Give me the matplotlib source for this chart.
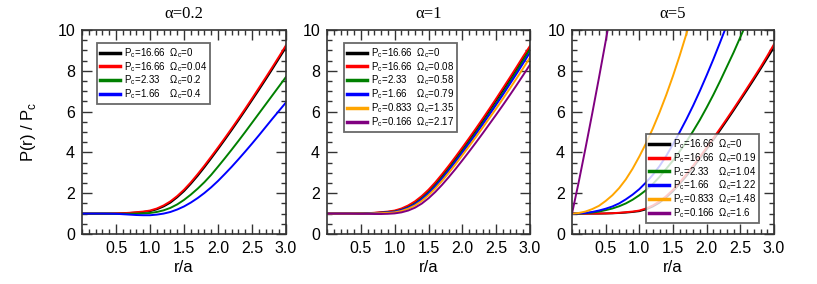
import numpy as np
import matplotlib
matplotlib.use("Agg")
import matplotlib.pyplot as plt
from matplotlib.ticker import MultipleLocator

plt.rcParams['font.family'] = ['Liberation Sans', 'DejaVu Sans']
plt.rcParams['mathtext.fontset'] = 'custom'
plt.rcParams['mathtext.rm'] = 'Liberation Sans'

r = [0.0, 0.1, 0.2, 0.3, 0.4, 0.5, 0.6, 0.7, 0.8, 0.9, 1.0, 1.1, 1.2, 1.3, 1.4, 1.5,
     1.6, 1.7, 1.8, 1.9, 2.0, 2.1, 2.2, 2.3, 2.4, 2.5, 2.6, 2.7, 2.8, 2.9, 3.0]

# alpha = 0.2
a1_black = [1.0, 1.0, 1.0, 1.0, 1.0, 1.005, 1.015, 1.03, 1.05, 1.08, 1.12, 1.21, 1.35, 1.54, 1.8, 2.1,
            2.46, 2.85, 3.27, 3.71, 4.16, 4.62, 5.09, 5.57, 6.06, 6.56, 7.06, 7.57, 8.09, 8.62, 9.15]
a1_red = [1.0, 1.0, 1.0, 1.0, 1.005, 1.01, 1.02, 1.04, 1.07, 1.1, 1.15, 1.25, 1.4, 1.6, 1.86, 2.17,
          2.53, 2.93, 3.35, 3.79, 4.24, 4.7, 5.17, 5.65, 6.14, 6.64, 7.15, 7.66, 8.18, 8.71, 9.25]
a1_green = [1.0, 1.0, 1.0, 1.0, 1.0, 0.99, 0.99, 0.99, 1.0, 1.01, 1.03, 1.08, 1.16, 1.28, 1.45, 1.67,
            1.93, 2.22, 2.54, 2.9, 3.3, 3.71, 4.13, 4.56, 5.0, 5.45, 5.9, 6.35, 6.8, 7.25, 7.7]
a1_blue = [1.0, 1.0, 1.0, 1.0, 0.995, 0.99, 0.97, 0.95, 0.93, 0.92, 0.92, 0.95, 1.0, 1.08, 1.2, 1.35,
           1.54, 1.76, 2.01, 2.29, 2.6, 2.94, 3.29, 3.66, 4.04, 4.43, 4.83, 5.24, 5.65, 6.05, 6.45]

# alpha = 1
a2_black = a1_black
a2_red = [1.0, 1.0, 1.0, 1.0, 1.005, 1.01, 1.02, 1.04, 1.07, 1.1, 1.15, 1.25, 1.4, 1.6, 1.86, 2.17,
          2.53, 2.93, 3.35, 3.79, 4.24, 4.7, 5.17, 5.65, 6.14, 6.64, 7.15, 7.66, 8.18, 8.71, 9.22]
a2_green = [1.0, 1.0, 1.0, 1.0, 1.0, 1.005, 1.01, 1.02, 1.04, 1.07, 1.1, 1.18, 1.31, 1.49, 1.74, 2.03,
            2.38, 2.77, 3.18, 3.61, 4.06, 4.51, 4.97, 5.44, 5.92, 6.41, 6.91, 7.44, 7.97, 8.51, 9.05]
a2_blue = [1.0, 1.0, 1.0, 1.0, 1.0, 1.0, 1.01, 1.02, 1.04, 1.06, 1.09, 1.17, 1.29, 1.46, 1.7, 1.99,
           2.33, 2.71, 3.12, 3.55, 3.99, 4.44, 4.9, 5.37, 5.85, 6.34, 6.83, 7.34, 7.85, 8.37, 8.9]
a2_orange = [1.0, 1.0, 1.0, 1.0, 1.0, 1.0, 1.0, 1.01, 1.02, 1.04, 1.06, 1.13, 1.24, 1.4, 1.62, 1.9,
             2.23, 2.6, 3.0, 3.42, 3.86, 4.3, 4.75, 5.21, 5.68, 6.15, 6.63, 7.12, 7.62, 8.13, 8.65]
a2_purple = [1.0, 1.0, 1.0, 1.0, 0.995, 0.99, 0.99, 0.98, 0.98, 0.99, 1.01, 1.06, 1.15, 1.29, 1.49, 1.75,
             2.06, 2.41, 2.79, 3.19, 3.61, 4.04, 4.48, 4.93, 5.39, 5.85, 6.32, 6.8, 7.29, 7.79, 8.3]

# alpha = 5
a3_black = a1_black
a3_red = [1.0, 1.0, 1.0, 1.0, 1.005, 1.01, 1.02, 1.04, 1.07, 1.1, 1.15, 1.25, 1.4, 1.6, 1.86, 2.17,
          2.53, 2.93, 3.35, 3.79, 4.24, 4.7, 5.17, 5.65, 6.14, 6.64, 7.15, 7.66, 8.18, 8.73, 9.3]
a3_green = [1.0, 1.0, 1.02, 1.05, 1.1, 1.17, 1.25, 1.36, 1.5, 1.68, 1.9, 2.15, 2.45, 2.8, 3.2, 3.6,
            4.05, 4.53, 5.05, 5.6, 6.2, 6.83, 7.5, 8.2, 8.9, 9.65, 10.4]
a3_blue = [1.0, 1.01, 1.03, 1.08, 1.15, 1.24, 1.35, 1.5, 1.7, 1.93, 2.2, 2.53, 2.9, 3.33, 3.83, 4.4,
           5.0, 5.63, 6.3, 7.02, 7.78, 8.57, 9.4, 10.25]
a3_orange = [1.0, 1.03, 1.1, 1.22, 1.38, 1.62, 1.9, 2.25, 2.68, 3.2, 3.8, 4.45, 5.17, 5.96, 6.82, 7.75,
             8.75, 9.82, 10.95]
a3_purple = [1.0, 2.55, 4.2, 5.9, 7.65, 9.45, 11.3]

titles = ['α=0.2', 'α=1', 'α=5']
labels1 = ['P$_\\mathregular{c}$=16.66  Ω$_\\mathregular{c}$=0',
           'P$_\\mathregular{c}$=16.66  Ω$_\\mathregular{c}$=0.04',
           'P$_\\mathregular{c}$=2.33    Ω$_\\mathregular{c}$=0.2',
           'P$_\\mathregular{c}$=1.66    Ω$_\\mathregular{c}$=0.4']
labels2 = ['P$_\\mathregular{c}$=16.66  Ω$_\\mathregular{c}$=0',
           'P$_\\mathregular{c}$=16.66  Ω$_\\mathregular{c}$=0.08',
           'P$_\\mathregular{c}$=2.33    Ω$_\\mathregular{c}$=0.58',
           'P$_\\mathregular{c}$=1.66    Ω$_\\mathregular{c}$=0.79',
           'P$_\\mathregular{c}$=0.833  Ω$_\\mathregular{c}$=1.35',
           'P$_\\mathregular{c}$=0.166  Ω$_\\mathregular{c}$=2.17']
labels3 = ['P$_\\mathregular{c}$=16.66  Ω$_\\mathregular{c}$=0',
           'P$_\\mathregular{c}$=16.66  Ω$_\\mathregular{c}$=0.19',
           'P$_\\mathregular{c}$=2.33    Ω$_\\mathregular{c}$=1.04',
           'P$_\\mathregular{c}$=1.66    Ω$_\\mathregular{c}$=1.22',
           'P$_\\mathregular{c}$=0.833  Ω$_\\mathregular{c}$=1.48',
           'P$_\\mathregular{c}$=0.166  Ω$_\\mathregular{c}$=1.6']

colors = ['black', 'red', 'green', 'blue', 'orange', 'purple']

fig = plt.figure(figsize=(8.17, 2.84), dpi=100)
W, H = 817, 284
lefts = [82, 327, 572]
widths = [204, 203, 202]
axes = [fig.add_axes([lefts[i] / W, 50 / H, widths[i] / W, 204 / H]) for i in range(3)]

panels = [
    [a1_black, a1_red, a1_green, a1_blue],
    [a2_black, a2_red, a2_green, a2_blue, a2_orange, a2_purple],
    [a3_black, a3_red, a3_green, a3_blue, a3_orange, a3_purple],
]
all_labels = [labels1, labels2, labels3]
legend_pos = [('upper left', (0.074, 0.936)), ('upper left', (0.084, 0.936)), ('lower right', (0.926, 0.054))]

for i, ax in enumerate(axes):
    for j, yy in enumerate(panels[i]):
        ax.plot(r[:len(yy)], yy, color=colors[j], lw=1.4, label=all_labels[i][j])
    ax.set_xlim(0, 3)
    ax.set_ylim(0, 10)
    ax.set_xticks([0.5, 1.0, 1.5, 2.0, 2.5, 3.0])
    ax.set_xticklabels(['0.5', '1.0', '1.5', '2.0', '2.5', '3.0'])
    ax.set_yticks([0, 2, 4, 6, 8, 10])
    ax.xaxis.set_minor_locator(MultipleLocator(0.1))
    ax.yaxis.set_minor_locator(MultipleLocator(0.5))
    ax.tick_params(which='both', direction='in', top=True, right=True, labelsize=11.5, width=1.0, color='#333333')
    ax.tick_params(which='major', length=7, pad=5)
    ax.tick_params(which='minor', length=3.5)
    for s in ax.spines.values():
        s.set_linewidth(1.2)
        s.set_color('#333333')
    ax.set_xlabel('r/a', fontsize=12, labelpad=3)
    ax.set_title(titles[i], fontsize=12, family='Liberation Serif', pad=9)
    loc, anchor = legend_pos[i]
    leg = ax.legend(loc=loc, bbox_to_anchor=anchor, borderaxespad=0, fontsize=7,
                    frameon=True, fancybox=False, handlelength=2.1, handletextpad=0.4,
                    labelspacing=0.0, borderpad=0.3)
    leg.get_frame().set_edgecolor('#444444')
    leg.get_frame().set_linewidth(1.3)
    for ln in leg.get_lines():
        ln.set_linewidth(2.5)

axes[0].set_ylabel('P(r) / P$_\\mathregular{c}$', fontsize=12, labelpad=14)

fig.savefig('out.png', dpi=100)
